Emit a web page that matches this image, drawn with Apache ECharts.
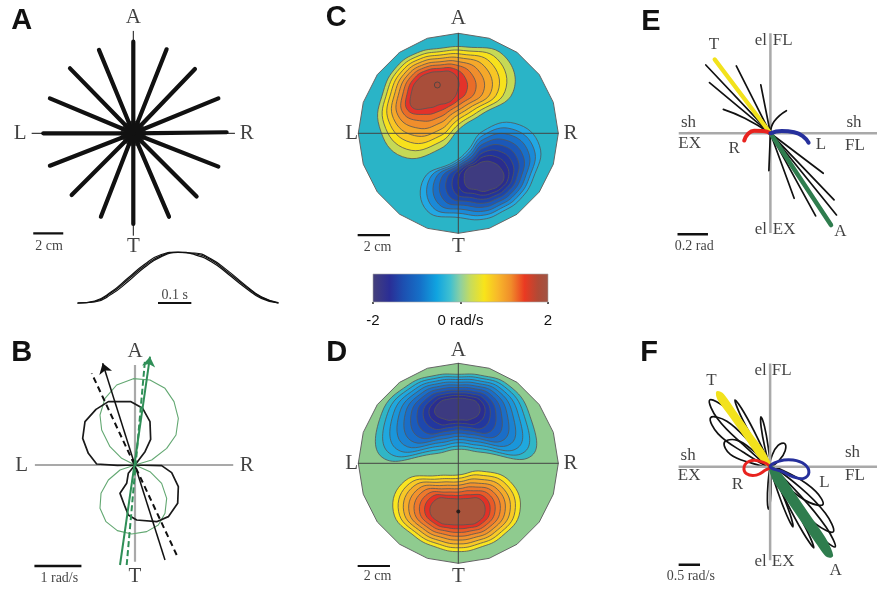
<!DOCTYPE html>
<html>
<head>
<meta charset="utf-8">
<script src="https://cdn.jsdelivr.net/npm/echarts@6.0.0/dist/echarts.min.js"></script>
<style>
html,body{margin:0;padding:0;background:#fff;}
#chart{width:877px;height:590px;}
</style>
</head>
<body>
<div id="chart"></div>
<script>
// ================= DATA =================
// Panel A: end points of the 16 hand paths (cm), all starting at the centre
const reachEnds = [[0,6.11],[2.22,5.6],[4.11,4.29],[5.67,2.33],[6.22,0.07],[5.67,-2.22],[4.22,-4.22],[2.38,-5.56],
                   [0,-6.04],[-2.16,-5.56],[-4.11,-4.11],[-5.56,-2.16],[-6.0,0],[-5.56,2.33],[-4.22,4.33],[-2.29,5.56]];
// Panel A: normalised hand speed profiles vs time (s)
const speedTime = [0,0.05,0.1,0.15,0.2,0.25,0.3,0.35,0.4,0.45,0.5,0.55,0.6];
const speedProfile1 = [0,0.03,0.20,0.46,0.73,0.93,0.995,0.965,0.84,0.60,0.34,0.11,0];
const speedProfile2 = [0,0.02,0.17,0.42,0.70,0.91,0.99,0.98,0.86,0.63,0.36,0.12,0.01];
const speedProfile3 = [0,0.04,0.22,0.49,0.76,0.95,1.0,0.95,0.81,0.57,0.31,0.09,0];

// Panel B: tuning curves (rad/s) of two joint velocity components
const blackTuning = [[0,0],[-0.376,-0.007],[-0.816,0.021],[-0.993,0.248],[-1.113,0.567],[-1.064,0.922],[-0.830,1.184],
  [-0.567,1.348],[-0.085,1.348],[0.163,1.206],[0.319,0.922],[0.333,0.546],[0.213,0.284],[0,0],
  [0.567,-0.014],[0.780,-0.163],[0.922,-0.461],[0.908,-0.816],[0.709,-1.099],[0.461,-1.206],[0.035,-1.170],
  [-0.142,-1.064],[-0.213,-0.887],[-0.319,-0.603],[-0.177,-0.390],[-0.142,-0.177],[0,0]];
const greenTuning = [[0,0],[-0.284,0.142],[-0.532,0.390],[-0.709,0.745],[-0.745,1.064],[-0.638,1.418],[-0.390,1.702],
  [-0.035,1.837],[0.319,1.809],[0.638,1.631],[0.830,1.348],[0.922,0.993],[0.872,0.638],[0.674,0.355],[0.355,0.106],[0,0],
  [-0.319,-0.106],[-0.567,-0.319],[-0.723,-0.603],[-0.745,-0.922],[-0.617,-1.206],[-0.376,-1.397],[-0.071,-1.468],
  [0.248,-1.418],[0.496,-1.277],[0.638,-1.028],[0.674,-0.709],[0.567,-0.390],[0.319,-0.142],[0,0]];
const blackPD = [[0.638,-2.021],[-0.688,2.163]];
const blackPDdash = [[0.887,-1.915],[-0.922,1.950]];
const greenPD = [[-0.319,-2.128],[0.319,2.305]];
const greenPDdash = [[-0.177,-2.128],[0.213,2.234]];

// Panels C, D: workspace boundary (cm) and contour levels (radii in cm from lobe centre, at lobeAngles)
const workspaceBoundary = [[0,6.25],[1.93,5.94],[3.67,5.06],[5.06,3.67],[5.94,1.93],[6.25,0],[5.94,-1.93],[5.06,-3.67],
  [3.67,-5.06],[1.93,-5.94],[0,-6.25],[-1.93,-5.94],[-3.67,-5.06],[-5.06,-3.67],[-5.94,-1.93],[-6.25,0],[-5.94,1.93],
  [-5.06,3.67],[-3.67,5.06],[-1.93,5.94]];
const lobeAngles = [0,30,60,90,120,150,180,210,240,270,300,330];
const cPosCenter = [-1.15,2.6];
const cPosLevels = [
 [4.58,4.58,3.23,2.71,2.81,3.12,3.54,4.37,4.69,3.58,2.60,2.92],
 [4.06,4.12,2.97,2.50,2.60,2.90,3.29,4.03,4.15,3.15,2.35,2.64],
 [3.62,3.66,2.71,2.29,2.39,2.68,3.04,3.69,3.66,2.77,2.10,2.36],
 [3.20,3.20,2.45,2.08,2.18,2.46,2.79,3.35,3.17,2.38,1.84,2.08],
 [2.72,2.74,2.19,1.87,1.97,2.24,2.54,3.01,2.64,1.96,1.58,1.80],
 [2.20,2.27,1.94,1.67,1.77,2.02,2.28,2.66,2.12,1.58,1.33,1.51],
 [1.66,1.81,1.68,1.46,1.56,1.79,2.02,2.32,1.64,1.20,1.08,1.22],
 [1.08,1.35,1.42,1.25,1.35,1.56,1.77,1.98,1.15,0.80,0.83,0.94]];
const cNegCenter = [1.56,-2.81];
const cNegLevels = [
 [3.12,4.06,3.96,2.96,1.98,2.08,3.70,4.06,2.85,2.56,2.40,2.65],
 [2.86,3.66,3.56,2.69,1.83,1.95,3.34,3.64,2.56,2.31,2.18,2.42],
 [2.60,3.26,3.16,2.42,1.68,1.82,2.98,3.22,2.27,2.06,1.96,2.19],
 [2.34,2.86,2.76,2.15,1.53,1.69,2.62,2.80,1.98,1.81,1.74,1.96],
 [2.08,2.46,2.36,1.88,1.38,1.56,2.26,2.38,1.69,1.56,1.52,1.73],
 [1.82,2.06,1.96,1.61,1.23,1.43,1.90,1.96,1.40,1.31,1.30,1.50],
 [1.56,1.66,1.56,1.34,1.08,1.30,1.55,1.56,1.11,1.06,1.07,1.27],
 [1.29,1.25,1.15,1.04,0.94,1.15,1.19,1.15,0.83,0.83,0.83,1.04]];
const cPeak = [-1.31,3.02];
const dNegCenter = [0,3.125];
const dNegLevels = [
 [4.42,3.58,2.75,2.44,2.75,3.58,4.79,5.50,2.92,2.25,2.81,5.30],
 [4.07,3.33,2.56,2.27,2.56,3.33,4.42,4.98,2.65,2.05,2.55,4.80],
 [3.73,3.08,2.37,2.11,2.37,3.08,4.05,4.46,2.38,1.84,2.29,4.30],
 [3.38,2.84,2.18,1.94,2.18,2.84,3.68,3.94,2.11,1.64,2.03,3.80],
 [3.04,2.59,1.99,1.77,1.99,2.59,3.31,3.42,1.84,1.44,1.77,3.30],
 [2.69,2.34,1.80,1.61,1.80,2.34,2.94,2.91,1.56,1.24,1.52,2.80],
 [2.35,2.09,1.61,1.44,1.61,2.09,2.57,2.39,1.29,1.03,1.26,2.30],
 [2.00,1.84,1.42,1.27,1.42,1.84,2.20,1.87,1.02,0.83,1.00,1.80],
 [1.66,1.60,1.23,1.11,1.23,1.60,1.83,1.35,0.75,0.62,0.74,1.30],
 [1.31,1.35,1.04,0.94,1.04,1.35,1.46,0.83,0.48,0.42,0.48,0.80]];
const dPosCenter = [0,-3.02];
const dPosLevels = [
 [3.85,3.75,2.92,2.29,2.60,3.85,4.06,3.12,2.60,2.50,2.60,3.12],
 [3.54,3.44,2.64,2.08,2.36,3.52,3.73,2.87,2.36,2.26,2.36,2.87],
 [3.23,3.12,2.35,1.86,2.13,3.20,3.41,2.61,2.13,2.02,2.13,2.61],
 [2.92,2.81,2.07,1.65,1.89,2.87,3.08,2.36,1.89,1.78,1.89,2.36],
 [2.61,2.50,1.79,1.43,1.65,2.54,2.75,2.11,1.65,1.54,1.65,2.11],
 [2.29,2.19,1.51,1.22,1.41,2.21,2.42,1.86,1.41,1.30,1.41,1.86],
 [1.98,1.87,1.22,1.00,1.18,1.89,2.10,1.60,1.18,1.07,1.18,1.60],
 [1.67,1.56,0.94,0.79,0.94,1.56,1.77,1.35,0.94,0.83,0.94,1.35]];
const dPeak = [0,-3.02];

// Colour bar
const cbTicks = [-2,0,2];
const cbUnit = 'rad/s';

// Panel E: joint angle paths (rad), [shoulder, elbow]
const eBlackPaths = [
 [[0,0],[-0.424,0.414]], [[0,0],[-0.4,0.307]], [[0,0],[-0.168,0.091],[-0.309,0.145]], [[0,0],[-0.224,0.408]],
 [[0,0],[-0.063,0.293]], [[0,0],[0.024,0.071],[0.105,0.137]], [[0,0],[-0.01,-0.226]],
 [[0,0],[0.347,-0.242]], [[0,0],[0.418,-0.404]], [[0,0],[0.434,-0.495]], [[0,0],[0.297,-0.501]], [[0,0],[0.156,-0.394]]];
const eT = [[0,0],[-0.366,0.448]];
const eR = [[0,0],[-0.046,0.014],[-0.107,0.016],[-0.147,-0.004],[-0.172,-0.044]];
const eL = [[0,0],[0.075,0.014],[0.156,0.006],[0.216,-0.020],[0.251,-0.057]];
const eA = [[0,0],[0.398,-0.556]];

// Panel F: joint velocity loops (rad/s), each starts and ends at rest (0,0)
const fBlackLoops = [
 [[0,0],[-0.481,0.656],[-1.024,1.248],[-1.414,1.429],[-1.238,1.038],[-0.651,0.488]],
 [[0,0],[-0.479,0.524],[-1.012,0.976],[-1.393,1.05],[-1.216,0.704],[-0.635,0.316]],
 [[0,0],[-0.371,0.325],[-0.783,0.57],[-1.071,0.521],[-0.931,0.264],[-0.485,0.091]],
 [[0,0],[-0.285,0.597],[-0.614,1.168],[-0.821,1.429],[-0.7,1.118],[-0.371,0.547]],
 [[0,0],[-0.047,0.436],[-0.132,0.865],[-0.214,1.071],[-0.21,0.849],[-0.125,0.42]],
 [[0,0],[0.217,0.144],[0.352,0.344],[0.336,0.5],[0.186,0.456],[0.051,0.256]],
 [[0,0],[-0.049,-0.362],[-0.064,-0.725],[-0.036,-0.907],[0.006,-0.727],[0.021,-0.364]],
 [[0,0],[0.417,-0.44],[0.912,-0.763],[1.236,-0.807],[1.066,-0.529],[0.571,-0.206]],
 [[0,0],[0.482,-0.673],[1.073,-1.23],[1.479,-1.393],[1.293,-0.998],[0.702,-0.441]],
 [[0,0],[0.518,-0.766],[1.127,-1.451],[1.521,-1.714],[1.307,-1.291],[0.698,-0.606]],
 [[0,0],[0.365,-0.719],[0.774,-1.414],[1.021,-1.736],[0.86,-1.364],[0.451,-0.669]],
 [[0,0],[0.177,-0.529],[0.392,-1.044],[0.536,-1.286],[0.466,-1.014],[0.251,-0.499]]];
const fT = [[0,0],[-0.23,0.2],[-0.535,0.595],[-0.901,1.069],[-1.206,1.464],[-1.23,1.59],[-1.112,1.538],[-0.807,1.143],[-0.441,0.669],[-0.136,0.274]];
const fR = [[0,0],[-0.25,0.121],[-0.479,0.121],[-0.607,0],[-0.55,-0.15],[-0.321,-0.179],[-0.107,-0.071]];
const fL = [[0,0],[0.214,0.121],[0.536,0.143],[0.807,0.05],[0.907,-0.121],[0.786,-0.25],[0.536,-0.214],[0.286,-0.107]];
const fA = [[0,0],[0.108,-0.294],[0.408,-0.694],[0.768,-1.174],[1.128,-1.654],[1.33,-1.9],[1.44,-1.9],[1.272,-1.546],[0.912,-1.066],[0.552,-0.586],[0.252,-0.186]];

// ================= STYLES =================
const colormap = [[0,'#45407a'],[0.096,'#2a2e96'],[0.173,'#1d4fb0'],[0.27,'#1570c8'],[0.365,'#10a4e0'],[0.442,'#40c0d0'],
  [0.5,'#8ed0a0'],[0.558,'#c8dc5a'],[0.635,'#f8e41a'],[0.712,'#f8b82a'],[0.788,'#f08c2a'],[0.865,'#ea3a22'],[0.942,'#b04a36'],[1,'#a05545']];
const cBg = '#2ab4c7', dBg = '#8fcb8f';
const cPosColors = ['#c6d955','#f7e11c','#f8c625','#f5a82a','#f08e2c','#ea6c28','#e3322a','#a94e3a'];
const cNegColors = ['#22a8e4','#1a8ad8','#196fc8','#1b58b8','#1d44a8','#22349a','#2a2c8e','#3e3b80'];
const dNegColors = ['#30b6c6','#1fa8df','#1a96da','#1a82d2','#1a6ec8','#1b5bbc','#1d48ae','#22379f','#2a2d91','#3c3a80'];
const dPosColors = ['#f9e521','#f8c926','#f5ab2b','#f2922d','#ee782c','#e95a28','#e23126','#a8533b'];
const YEL = '#f2e21c', RED = '#e8231f', BLU = '#26309c', GRN = '#2f7d4e', INK = '#111', AXG = '#a9a9a9', CL = '#555';
const SERIF = 'Liberation Serif', SANS = 'Liberation Sans';

// ================= BUILD =================
const grids = [], xAxes = [], yAxes = [], series = [];
function addGrid(left, top, width, height, xr, yr, xExtra) {
  const i = grids.length;
  grids.push({left, top, width, height, show:false});
  xAxes.push(Object.assign({type:'value', gridIndex:i, min:xr[0], max:xr[1], show:false}, xExtra || {}));
  yAxes.push({type:'value', gridIndex:i, min:yr[0], max:yr[1], show:false});
  return i;
}
function line(gi, pts, color, width, extra) {
  series.push(Object.assign({type:'line', xAxisIndex:gi, yAxisIndex:gi, data:pts, symbol:'none', showSymbol:false,
    clip:false, silent:true, animation:false, z:3,
    lineStyle:{color, width, cap:'round', join:'round'}}, extra || {}));
}
function texts(gi, items, family, size) {
  series.push({type:'scatter', xAxisIndex:gi, yAxisIndex:gi, symbolSize:1, clip:false, silent:true, z:20,
    itemStyle:{color:'rgba(0,0,0,0)'},
    data: items.map(it => ({value:[it[1], it[2]], name:it[0], label:{align: it[3] || 'center'}})),
    label:{show:true, position:'inside', formatter:'{b}', color:INK, fontFamily:family, fontSize:size, verticalAlign:'middle'}});
}
function polygons(gi, polys, z) {
  series.push({type:'custom', coordinateSystem:'cartesian2d', xAxisIndex:gi, yAxisIndex:gi, clip:false, silent:true, z:z,
    data: polys.map((p, i) => [i]),
    renderItem: (params, api) => {
      const p = polys[params.dataIndex];
      return {type:'polygon', shape:{points:p.pts.map(q => api.coord(q)), smooth:p.smooth || 0},
        style:{fill:p.fill, stroke:p.stroke || 'none', lineWidth:p.lw || 0, lineJoin:'round'}};
    }});
}
function lobe(center, levels, colors) {
  return levels.map((rs, k) => ({
    pts: rs.map((r, i) => [center[0] + r * Math.cos(lobeAngles[i] * Math.PI / 180),
                           center[1] + r * Math.sin(lobeAngles[i] * Math.PI / 180)]),
    fill: colors[k], stroke: CL, lw: 0.8, smooth: 0.45}));
}
function arrow(gi, coords, color, width, type, head) {
  series.push({type:'lines', coordinateSystem:'cartesian2d', xAxisIndex:gi, yAxisIndex:gi, silent:true, z:6,
    symbol: head ? ['none','arrow'] : ['none','none'], symbolSize:[7,10],
    lineStyle:{color, width, type, opacity:1}, data:[{coords}]});
}

// ---- Panel A ----
const gA = addGrid(13.3, 13.3, 240, 240, [-8,8], [-8,8]);
line(gA, [[0,-6.8],[0,6.8]], INK, 1);
line(gA, [[-6.75,0],[6.75,0]], INK, 1);
reachEnds.forEach(e => line(gA, [[0,0], e], INK, 4.2));
series.push({type:'scatter', xAxisIndex:gA, yAxisIndex:gA, data:[[0,0]], symbolSize:25, itemStyle:{color:INK}, silent:true, z:4});
line(gA, [[-6.67,-6.67],[-4.67,-6.67]], INK, 2.2, {lineStyle:{color:INK, width:2.2, cap:'butt'}});
texts(gA, [['A',0,7.69],['T',0,-7.56],['L',-7.55,0],['R',7.56,0]], SERIF, 21);
texts(gA, [['2 cm',-5.61,-7.56]], SERIF, 14);

const gAv = addGrid(78, 252, 200, 51, [0,0.6], [0,1]);
[speedProfile1, speedProfile2, speedProfile3].forEach(p =>
  line(gAv, speedTime.map((t, i) => [t, p[i]]), INK, 1.2, {smooth:true}));
line(gAv, [[0.24,0],[0.34,0]], INK, 2.2, {lineStyle:{color:INK, width:2.2, cap:'butt'}});
texts(gAv, [['0.1 s',0.29,0.16]], SERIF, 14);

// ---- Panel B ----
const gB = addGrid(17.5, 347.5, 235, 235, [-2.5,2.5], [-2.5,2.5]);
line(gB, [[-2.13,0],[2.09,0]], AXG, 2.2, {lineStyle:{color:AXG, width:2.2, cap:'butt'}});
line(gB, [[0,2.13],[0,-2.06]], AXG, 2.2, {lineStyle:{color:AXG, width:2.2, cap:'butt'}});
line(gB, greenTuning, '#63a872', 1.1);
line(gB, blackTuning, '#1a1a1a', 1.7);
arrow(gB, blackPDdash, INK, 2, [6,4], false);
arrow(gB, blackPD, INK, 1.5, 'solid', true);
arrow(gB, greenPDdash, '#2f8f57', 2, [6,3], false);
arrow(gB, greenPD, '#2f8f57', 2, 'solid', true);
line(gB, [[-2.14,-2.15],[-1.14,-2.15]], INK, 2.4, {lineStyle:{color:INK, width:2.4, cap:'butt'}});
texts(gB, [['A',0,2.41],['T',0,-2.38],['L',-2.41,0],['R',2.38,0]], SERIF, 21);
texts(gB, [['1 rad/s',-1.61,-2.41]], SERIF, 14);

// ---- Panels C & D ----
function contourPanel(top, bg, lobes, peak, peakStyle, labelsY, scaleY, scaleTextY) {
  const g = addGrid(338.3, top, 240, 240, [-7.5,7.5], [-7.5,7.5]);
  const polys = [{pts:workspaceBoundary, fill:bg, stroke:'none'}];
  lobes.forEach(l => polys.push.apply(polys, l));
  polys.push({pts:workspaceBoundary, fill:'none', stroke:'#666', lw:1});
  polygons(g, polys, 2);
  line(g, [[-6.25,0],[6.25,0]], '#444', 1, {z:5});
  line(g, [[0,6.25],[0,-6.25]], '#444', 1, {z:5});
  series.push(Object.assign({type:'scatter', xAxisIndex:g, yAxisIndex:g, data:[peak], silent:true, z:6, clip:false}, peakStyle));
  line(g, [[-6.29,scaleY],[-4.27,scaleY]], INK, 2.2, {lineStyle:{color:INK, width:2.2, cap:'butt'}});
  texts(g, [['A',0,labelsY[0]],['T',0,labelsY[1]],['L',-6.66,0],['R',7.01,0]], SERIF, 21);
  texts(g, [['2 cm',-5.05,scaleTextY]], SERIF, 14);
  return g;
}
contourPanel(13.3, cBg,
  [lobe(cPosCenter, cPosLevels, cPosColors), lobe(cNegCenter, cNegLevels, cNegColors)],
  cPeak, {symbol:'circle', symbolSize:6, itemStyle:{color:'#a94e3a', borderColor:'#444', borderWidth:1}},
  [7.19,-7.09], -6.36, -7.14);
contourPanel(343.3, dBg,
  [lobe(dNegCenter, dNegLevels, dNegColors), lobe(dPosCenter, dPosLevels, dPosColors)],
  dPeak, {symbol:'circle', symbolSize:4, itemStyle:{color:'#111'}},
  [7.08,-7.08], -6.42, -7.08);

// ---- Colour bar ----
const gCB = addGrid(373, 274, 175, 28, [cbTicks[0], cbTicks[2]], [0,1], {
  show:true, interval:2, axisLine:{show:false}, splitLine:{show:false},
  axisTick:{show:true, length:2, lineStyle:{color:'#222', width:1.5}},
  axisLabel:{show:true, margin:11, color:INK, fontFamily:SANS, fontSize:15,
    formatter: v => v === 0 ? '0 ' + cbUnit : String(v)}});
series.push({type:'custom', coordinateSystem:'cartesian2d', xAxisIndex:gCB, yAxisIndex:gCB, clip:false, silent:true, data:[[0]],
  renderItem: (params, api) => {
    const p0 = api.coord([cbTicks[0], 1]), p1 = api.coord([cbTicks[2], 0]);
    return {type:'rect', shape:{x:p0[0], y:p0[1], width:p1[0]-p0[0], height:p1[1]-p0[1]},
      style:{fill:new echarts.graphic.LinearGradient(0,0,1,0, colormap.map(s => ({offset:s[0], color:s[1]}))),
             stroke:'#aaa', lineWidth:0.6}};
  }});

// ---- Panel E ----
const gE = addGrid(663.8, 9.55, 231, 247.5, [-0.7,0.7], [-0.75,0.75]);
line(gE, [[-0.602,0],[0.7,0]], AXG, 2.5, {lineStyle:{color:AXG, width:2.5, cap:'butt'}});
line(gE, [[0,0.606],[0,-0.604]], AXG, 2.5, {lineStyle:{color:AXG, width:2.5, cap:'butt'}});
eBlackPaths.forEach(p => line(gE, p, INK, 1.7, {smooth:true}));
line(gE, eT, YEL, 4.2);
line(gE, eA, GRN, 4.5);
line(gE, eR, RED, 4, {smooth:true});
line(gE, eL, BLU, 4, {smooth:true});
line(gE, [[-0.61,-0.612],[-0.41,-0.612]], INK, 2.4, {lineStyle:{color:INK, width:2.4, cap:'butt'}});
texts(gE, [['T',-0.37,0.541],['R',-0.238,-0.091],['L',0.332,-0.071],['A',0.459,-0.596]], SERIF, 17);
texts(gE, [['el',-0.022,0.562,'right'],['FL',0.016,0.562,'left'],['el',-0.022,-0.586,'right'],['EX',0.016,-0.586,'left'],
           ['sh',-0.538,0.065],['EX',-0.53,-0.06],['sh',0.499,0.065,'left'],['FL',0.49,-0.072,'left']], SERIF, 17);
texts(gE, [['0.2 rad',-0.5,-0.687]], SERIF, 14);

// ---- Panel F ----
const gF = addGrid(663.25, 350, 233.5, 233.5, [-2.5,2.5], [-2.5,2.5]);
line(gF, [[-2.14,0],[2.5,0]], AXG, 2.5, {lineStyle:{color:AXG, width:2.5, cap:'butt'}});
line(gF, [[0,2.21],[0,-2.0]], AXG, 2.5, {lineStyle:{color:AXG, width:2.5, cap:'butt'}});
polygons(gF, fBlackLoops.map(p => ({pts:p, fill:'none', stroke:INK, lw:1.7, smooth:0.4})), 3);
polygons(gF, [{pts:fT, fill:YEL, stroke:YEL, lw:3, smooth:0.3}, {pts:fA, fill:GRN, stroke:GRN, lw:3, smooth:0.3}], 4);
polygons(gF, [{pts:fR, fill:'none', stroke:RED, lw:3, smooth:0.4}, {pts:fL, fill:'none', stroke:BLU, lw:3, smooth:0.4}], 5);
line(gF, [[-2.14,-2.1],[-1.64,-2.1]], INK, 2.4, {lineStyle:{color:INK, width:2.4, cap:'butt'}});
texts(gF, [['T',-1.375,1.84],['R',-0.767,-0.375],['L',1.268,-0.338],['A',1.535,-2.23]], SERIF, 17);
texts(gF, [['el',-0.08,2.05,'right'],['FL',0.04,2.05,'left'],['el',-0.08,-2.03,'right'],['EX',0.04,-2.03,'left'],
           ['sh',-1.917,0.25],['EX',-1.895,-0.195],['sh',1.75,0.304,'left'],['FL',1.75,-0.178,'left']], SERIF, 17);
texts(gF, [['0.5 rad/s',-1.857,-2.355]], SERIF, 14);

// ---- panel letters ----
const letters = [['A',21.7,21.2],['B',21.7,353.3],['C',336.3,18.3],['D',336.7,353.3],['E',650.8,21.7],['F',649.2,352.5]];

const chart = echarts.init(document.getElementById('chart'), null, {renderer:'canvas'});
chart.setOption({
  animation:false,
  backgroundColor:'#fff',
  grid:grids, xAxis:xAxes, yAxis:yAxes, series:series,
  graphic: letters.map(l => ({type:'text', x:l[1], y:l[2], silent:true,
    style:{text:l[0], fill:INK, font:'bold 29px "Liberation Sans"', align:'center', verticalAlign:'middle'}}))
});
</script>
</body>
</html>
